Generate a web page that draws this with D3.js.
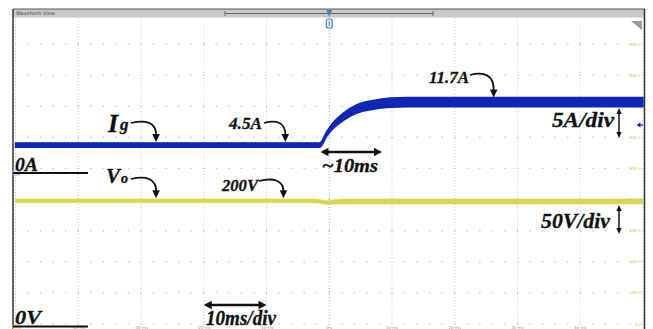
<!DOCTYPE html>
<html>
<head>
<meta charset="utf-8">
<script src="https://d3js.org/d3.v7.min.js"></script>
<style>
    html, body { margin: 0; padding: 0; background: #fff; }
    svg { display: block; }
    .note { font-family: "Liberation Serif", serif; font-weight: bold; font-style: italic; fill: #111; stroke: #111; stroke-width: 0.3; }
    .tiny { font-family: "DejaVu Sans", sans-serif; }
</style>
</head>
<body>
<div id="scope"></div>
<script>
// time axis (ms), 10 ms/div
var timeTicks  = [-50, -40, -30, -20, -10, 0, 10, 20, 30, 40, 50];
var timeLabels = ["", "-40 ms", "-30 ms", "-20 ms", "-10 ms", "0 s", "10 ms", "20 ms", "30 ms", "40 ms", ""];
// voltage grid (V), 50 V/div
var voltTicks  = [0, 50, 100, 150, 200, 250, 300, 350, 400, 450, 500];

// Ig trace (A): centre of the band and half its ripple width
var igTime = [-50, -1.5, -0.4, 0.6, 2.2, 4.4, 7.0, 9.7, 12.4, 20, 50];
var igMid  = [4.5, 4.5, 6.3, 7.6, 9.0, 10.3, 10.95, 11.3, 11.4, 11.4, 11.4];
var igHalf = [0.35, 0.35, 0.4, 0.5, 0.6, 0.68, 0.72, 0.75, 0.75, 0.75, 0.75];

// Vo trace (V)
var voTime = [-50, -2, -1, 0, 1, 3, 50];
var voMid  = [198, 198, 196, 195.5, 196.5, 197, 197];
var voHalf = [3, 3, 3, 3.2, 3.6, 4, 4];

var W = 653, H = 329;
var svg = d3.select("#scope").append("svg").attr("width", W).attr("height", H);

var x  = d3.scaleLinear().domain([-50, 50]).range([15.5, 643]);
var yV = d3.scaleLinear().domain([0, 500]).range([324, 13]);
var yI = d3.scaleLinear().domain([0, 5]).range([173, 141.9]);   // 5 A/div, 0 A marker

var blue = "#1026b4", yellow = "#d8d650";

// grid
var grid = svg.append("g");
grid.selectAll(".vg").data(timeTicks).enter().append("line")
    .attr("x1", function(d) { return x(d); }).attr("x2", function(d) { return x(d); })
    .attr("y1", 18).attr("y2", H)
    .attr("stroke", function(d) { return d === 0 ? "#a8b4c8" : "#c9c9c9"; })
    .attr("stroke-width", 1)
    .attr("stroke-dasharray", "1,2");
grid.selectAll(".hg").data(voltTicks).enter().append("line")
    .attr("x1", x(-50)).attr("x2", x(50))
    .attr("y1", function(d) { return yV(d); }).attr("y2", function(d) { return yV(d); })
    .attr("stroke", "#c4c4c4")
    .attr("stroke-width", 1.2)
    .attr("stroke-dasharray", "1.5,11.05")
    .attr("stroke-dashoffset", 0.75);

// tiny scope labels
svg.selectAll(".tl").data(timeTicks).enter().append("text")
    .attr("class", "tiny")
    .attr("x", function(d) { return x(d); }).attr("y", 329)
    .attr("text-anchor", "middle").attr("font-size", 4).attr("fill", "#999")
    .text(function(d, i) { return timeLabels[i]; });
svg.selectAll(".vl").data(voltTicks.slice(0, 10)).enter().append("text")
    .attr("class", "tiny")
    .attr("x", 641).attr("y", function(d) { return yV(d) + 1.5; })
    .attr("text-anchor", "end").attr("font-size", 4).attr("fill", "#c9c860")
    .text(function(d) { return d + " V"; });

// traces
var igArea = d3.area()
    .x(function(d, i) { return x(igTime[i]); })
    .y0(function(d, i) { return yI(igMid[i] - igHalf[i]); })
    .y1(function(d, i) { return yI(igMid[i] + igHalf[i]); })
    .curve(d3.curveMonotoneX);
var voArea = d3.area()
    .x(function(d, i) { return x(voTime[i]); })
    .y0(function(d, i) { return yV(voMid[i] - voHalf[i]); })
    .y1(function(d, i) { return yV(voMid[i] + voHalf[i]); })
    .curve(d3.curveMonotoneX);

svg.append("path").datum(voTime).attr("d", voArea)
    .attr("fill", yellow).attr("stroke", yellow).attr("stroke-width", 0.6);
svg.append("path").datum(igTime).attr("d", igArea)
    .attr("fill", blue).attr("stroke", blue).attr("stroke-width", 1.4);

// frame and top bar
svg.append("rect").attr("x", 13).attr("y", 9).attr("width", 632).attr("height", 8.5)
    .attr("fill", "#c9c9c9");
svg.append("line").attr("x1", 13).attr("x2", 645).attr("y1", 9).attr("y2", 9).attr("stroke", "#555");
svg.append("text").attr("class", "tiny").attr("x", 16).attr("y", 15.3)
    .attr("font-size", 5).attr("fill", "#444").text("Waveform View");
svg.append("line").attr("x1", 225).attr("x2", 433).attr("y1", 13.5).attr("y2", 13.5)
    .attr("stroke", "#666").attr("stroke-width", 1);
[225, 433].forEach(function(px) {
    svg.append("line").attr("x1", px).attr("x2", px).attr("y1", 11).attr("y2", 16)
        .attr("stroke", "#666");
});
svg.append("line").attr("x1", 13).attr("x2", 13).attr("y1", 9).attr("y2", H)
    .attr("stroke", "#333").attr("stroke-width", 1.5);
svg.append("line").attr("x1", 644.5).attr("x2", 644.5).attr("y1", 9).attr("y2", H)
    .attr("stroke", "#333").attr("stroke-width", 1.5);

// trigger marker
var tx = x(0);
svg.append("path").attr("d", "M" + (tx - 3) + ",10 L" + (tx + 3) + ",10 L" + tx + ",17 Z")
    .attr("fill", "#4a7fd0");
svg.append("rect").attr("x", tx - 3).attr("y", 19).attr("width", 6).attr("height", 9).attr("rx", 2)
    .attr("fill", "#e6efff").attr("stroke", "#4a7fd0").attr("stroke-width", 1.2);
svg.append("line").attr("x1", tx).attr("x2", tx).attr("y1", 21).attr("y2", 26)
    .attr("stroke", "#4a7fd0").attr("stroke-width", 1);

// corner triangle and channel markers
svg.append("path").attr("d", "M631,21 L642,21 L642,30 Z").attr("fill", "#9a9a9a");
svg.append("path").attr("d", "M636.5," + yI(7.7) + " l4,-2.5 v5 Z").attr("fill", blue);
svg.append("line").attr("x1", 639).attr("x2", 643).attr("y1", yI(7.7)).attr("y2", yI(7.7))
    .attr("stroke", blue).attr("stroke-width", 1.2);
svg.append("rect").attr("x", 13).attr("y", yI(0) - 3).attr("width", 7).attr("height", 5).attr("rx", 1)
    .attr("fill", "#e4e2f4").attr("stroke", "#9c98c8").attr("stroke-width", 0.8);
svg.append("rect").attr("x", 13).attr("y", yV(0) + 1).attr("width", 7).attr("height", 5).attr("rx", 1)
    .attr("fill", "#efeec8").attr("stroke", "#c8c67a").attr("stroke-width", 0.8);

// annotations
var ann = svg.append("g");
function note(t, px, py, size, w) {
    var el = ann.append("text").attr("class", "note")
        .attr("x", px).attr("y", py).attr("font-size", size).text(t);
    if (w) el.attr("textLength", w).attr("lengthAdjust", "spacingAndGlyphs");
    return el;
}
function headDown(px, py) {
    ann.append("path").attr("d", "M" + (px - 3.8) + "," + (py - 8) + " L" + (px + 3.8) + "," + (py - 8) + " L" + px + "," + py + " Z")
        .attr("fill", "#111");
}
function curved(x0, y0, x1, y1) {
    ann.append("path")
        .attr("d", "M" + x0 + "," + y0 + " C" + (x0 + (x1 - x0) * 0.55) + "," + (y0 - 3.5) + " " + (x1 + 1) + "," + (y0 - 1) + " " + x1 + "," + (y1 - 6))
        .attr("fill", "none").attr("stroke", "#111").attr("stroke-width", 1.8);
    headDown(x1, y1);
}
function hArrow(x0, x1, py) {
    ann.append("line").attr("x1", x0 + 5).attr("x2", x1 - 5).attr("y1", py).attr("y2", py)
        .attr("stroke", "#111").attr("stroke-width", 2.4);
    ann.append("path").attr("d", "M" + x0 + "," + py + " l8,-4.2 v8.4 Z").attr("fill", "#111");
    ann.append("path").attr("d", "M" + x1 + "," + py + " l-8,-4.2 v8.4 Z").attr("fill", "#111");
}
function vArrow(px, y0, y1) {
    ann.append("line").attr("x1", px).attr("x2", px).attr("y1", y0 + 4).attr("y2", y1 - 4)
        .attr("stroke", "#111").attr("stroke-width", 1.5);
    ann.append("path").attr("d", "M" + px + "," + y0 + " l-2.6,6 h5.2 Z").attr("fill", "#111");
    ann.append("path").attr("d", "M" + px + "," + y1 + " l-2.6,-6 h5.2 Z").attr("fill", "#111");
}

// Ig
note("I", 108, 132, 26);
note("g", 120, 130, 17);
curved(131, 123, x(-27.6), yI(4.5) - 3);
note("4.5A", 229, 129, 16, 33);
curved(264, 123, x(-7.0), yI(4.5) - 3);
note("11.7A", 429, 83, 17, 40);
curved(470, 75, x(26.2), yI(11.4) - 4.5);
hArrow(x(-1.4), x(8.4), 152);
note("~10ms", 322, 172, 18, 56);
note("5A/div", 552, 127, 20, 62);
vArrow(619, 108, 138);

// Vo
note("V", 106, 183, 21);
note("o", 121, 183, 14);
curved(131, 179, x(-27.6), yV(198) - 2.5);
note("200V", 222, 191, 16, 36);
curved(259, 181, x(-7.3), yV(198) - 2.5);
note("50V/div", 541, 228, 20, 69);
vArrow(619, 205, 234);
hArrow(x(-20), x(-10), 305);
note("10ms/div", 206, 324.5, 20, 70);

// zero references
note("0A", 15, 171, 19, 23);
svg.append("line").attr("x1", 13).attr("x2", 88).attr("y1", yI(0)).attr("y2", yI(0))
    .attr("stroke", "#111").attr("stroke-width", 2);
note("0V", 15, 323.5, 19, 26);
svg.append("line").attr("x1", 13).attr("x2", 88).attr("y1", 326.5).attr("y2", 326.5)
    .attr("stroke", "#111").attr("stroke-width", 2);
</script>
</body>
</html>
